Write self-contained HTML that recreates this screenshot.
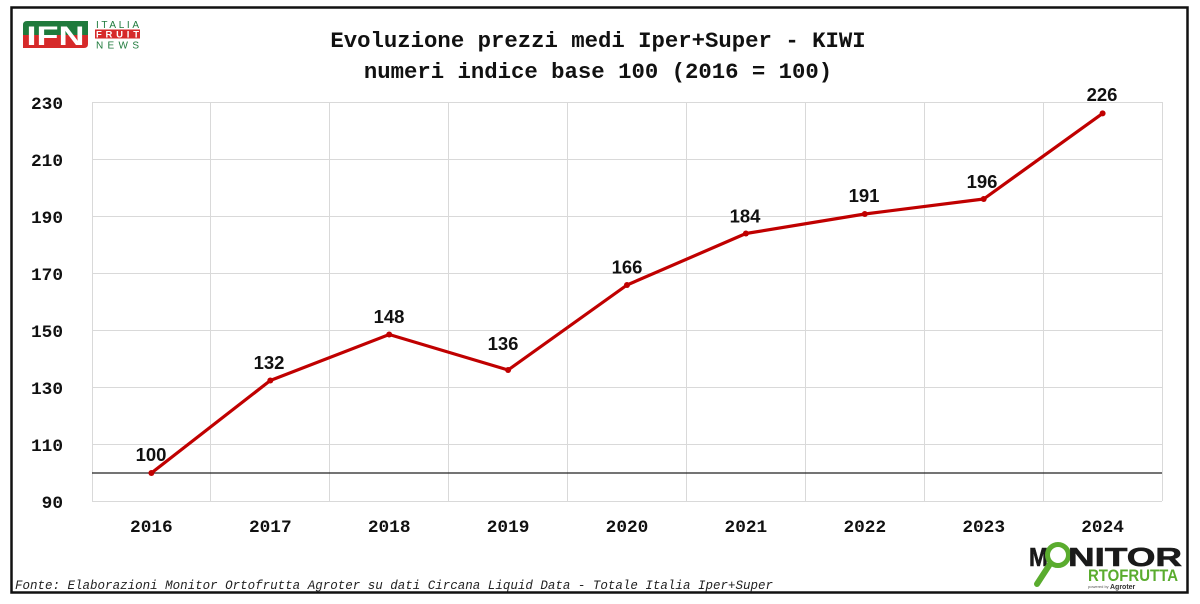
<!DOCTYPE html>
<html>
<head>
<meta charset="utf-8">
<style>
html,body{margin:0;padding:0;background:#fff;}
body{width:1200px;height:604px;overflow:hidden;position:relative;}
svg{display:block;}
</style>
</head>
<body>
<svg width="1200" height="604" viewBox="0 0 1200 604" xmlns="http://www.w3.org/2000/svg">
  <rect x="0" y="0" width="1200" height="604" fill="#fff"/>
  <!-- frame -->
  <rect x="11.5" y="7.5" width="1176" height="585" fill="#fff" stroke="#111" stroke-width="2.5"/>

  <!-- IFN logo -->
  <g>
    <path d="M27 21 H88 V35 H23 V25 Q23 21 27 21 Z" fill="#1f7a3c"/>
    <path d="M23 35 H88 V44 Q88 48 84 48 H23 Z" fill="#d62a2a"/>
    <text x="55.5" y="45" text-anchor="middle" font-family="Liberation Sans, sans-serif" font-weight="bold" font-size="27" fill="#fff" textLength="58" lengthAdjust="spacingAndGlyphs">IFN</text>
    <text x="96" y="28" font-family="Liberation Sans, sans-serif" font-size="10" fill="#1f7a3c" textLength="43" lengthAdjust="spacing">ITALIA</text>
    <rect x="95" y="29.5" width="45" height="9" fill="#d62a2a"/>
    <text x="96" y="37.7" font-family="Liberation Sans, sans-serif" font-weight="bold" font-size="9.5" fill="#fff" textLength="43" lengthAdjust="spacing">FRUIT</text>
    <text x="96" y="48.5" font-family="Liberation Sans, sans-serif" font-size="10" fill="#1f7a3c" textLength="43" lengthAdjust="spacing">NEWS</text>
  </g>

  <!-- Title -->
  <g font-family="Liberation Mono, monospace" font-weight="bold" font-size="22.3" fill="#111" text-anchor="middle">
    <text x="598" y="47">Evoluzione prezzi medi Iper+Super - KIWI</text>
    <text x="598" y="78">numeri indice base 100 (2016 = 100)</text>
  </g>

  <!-- grid -->
  <g stroke="#d9d9d9" stroke-width="1">
    <line x1="92" y1="102.5" x2="1162" y2="102.5"/>
    <line x1="92" y1="159.5" x2="1162" y2="159.5"/>
    <line x1="92" y1="216.5" x2="1162" y2="216.5"/>
    <line x1="92" y1="273.5" x2="1162" y2="273.5"/>
    <line x1="92" y1="330.5" x2="1162" y2="330.5"/>
    <line x1="92" y1="387.5" x2="1162" y2="387.5"/>
    <line x1="92" y1="444.5" x2="1162" y2="444.5"/>
    <line x1="92" y1="501.5" x2="1162" y2="501.5"/>
    <line x1="92.5" y1="102" x2="92.5" y2="501"/>
    <line x1="210.5" y1="102" x2="210.5" y2="501"/>
    <line x1="329.5" y1="102" x2="329.5" y2="501"/>
    <line x1="448.5" y1="102" x2="448.5" y2="501"/>
    <line x1="567.5" y1="102" x2="567.5" y2="501"/>
    <line x1="686.5" y1="102" x2="686.5" y2="501"/>
    <line x1="805.5" y1="102" x2="805.5" y2="501"/>
    <line x1="924.5" y1="102" x2="924.5" y2="501"/>
    <line x1="1043.5" y1="102" x2="1043.5" y2="501"/>
    <line x1="1162.5" y1="102" x2="1162.5" y2="501"/>
  </g>
  <!-- reference line at 100 -->
  <line x1="92" y1="473" x2="1162" y2="473" stroke="#222" stroke-width="1.2"/>

  <!-- Y labels -->
  <g font-family="Liberation Mono, monospace" font-weight="bold" font-size="17.8" fill="#111" text-anchor="end">
    <text x="63" y="109">230</text>
    <text x="63" y="166">210</text>
    <text x="63" y="223">190</text>
    <text x="63" y="280">170</text>
    <text x="63" y="337">150</text>
    <text x="63" y="394">130</text>
    <text x="63" y="451">110</text>
    <text x="63" y="508">90</text>
  </g>

  <!-- X labels -->
  <g font-family="Liberation Mono, monospace" font-weight="bold" font-size="17.8" fill="#111" text-anchor="middle">
    <text x="151.4" y="532">2016</text>
    <text x="270.3" y="532">2017</text>
    <text x="389.2" y="532">2018</text>
    <text x="508.1" y="532">2019</text>
    <text x="627" y="532">2020</text>
    <text x="745.9" y="532">2021</text>
    <text x="864.8" y="532">2022</text>
    <text x="983.7" y="532">2023</text>
    <text x="1102.6" y="532">2024</text>
  </g>

  <!-- series -->
  <polyline fill="none" stroke="#c00000" stroke-width="3.2" stroke-linejoin="round" stroke-linecap="round"
    points="151.4,473 270.3,380.5 389.2,334.5 508.1,370 627,285 745.9,233.5 864.8,214 983.7,199 1102.6,113.4"/>
  <g fill="#c00000">
    <circle cx="151.4" cy="473" r="3"/>
    <circle cx="270.3" cy="380.5" r="3"/>
    <circle cx="389.2" cy="334.5" r="3"/>
    <circle cx="508.1" cy="370" r="3"/>
    <circle cx="627" cy="285" r="3"/>
    <circle cx="745.9" cy="233.5" r="3"/>
    <circle cx="864.8" cy="214" r="3"/>
    <circle cx="983.7" cy="199" r="3"/>
    <circle cx="1102.6" cy="113.4" r="3"/>
  </g>

  <!-- data labels -->
  <g font-family="Liberation Sans, sans-serif" font-weight="bold" font-size="18.5" fill="#111" text-anchor="middle">
    <text x="151" y="461">100</text>
    <text x="269" y="369">132</text>
    <text x="389" y="323">148</text>
    <text x="503" y="350">136</text>
    <text x="627" y="273.5">166</text>
    <text x="745" y="222.5">184</text>
    <text x="864" y="202">191</text>
    <text x="982" y="188">196</text>
    <text x="1102" y="101">226</text>
  </g>

  <!-- Footer -->
  <text x="15" y="589" font-family="Liberation Mono, monospace" font-style="italic" font-size="12.5" fill="#222" textLength="758" lengthAdjust="spacingAndGlyphs">Fonte: Elaborazioni Monitor Ortofrutta Agroter su dati Circana Liquid Data - Totale Italia Iper+Super</text>

  <!-- Monitor Ortofrutta logo -->
  <g>
    <text x="1029" y="566" font-family="Liberation Sans, sans-serif" font-weight="bold" font-size="26" fill="#1a1a1a" textLength="19" lengthAdjust="spacingAndGlyphs" stroke="#1a1a1a" stroke-width="0.6">M</text>
    <line x1="1050" y1="564" x2="1037" y2="584" stroke="#5aac2e" stroke-width="6" stroke-linecap="round"/>
    <circle cx="1058" cy="555" r="10.5" fill="none" stroke="#5aac2e" stroke-width="5"/>
    <text x="1068" y="566" font-family="Liberation Sans, sans-serif" font-weight="bold" font-size="26" fill="#1a1a1a" textLength="114" lengthAdjust="spacingAndGlyphs" stroke="#1a1a1a" stroke-width="0.6">NITOR</text>
    <text x="1088" y="581" font-family="Liberation Sans, sans-serif" font-weight="bold" font-size="17" fill="#5aac2e" textLength="90" lengthAdjust="spacingAndGlyphs">RTOFRUTTA</text>
    <text x="1088" y="588" font-family="Liberation Sans, sans-serif" font-size="4" fill="#555">powered by</text>
    <text x="1110" y="589" font-family="Liberation Sans, sans-serif" font-weight="bold" font-size="7" fill="#333">Agroter</text>
  </g>
</svg>
</body>
</html>
